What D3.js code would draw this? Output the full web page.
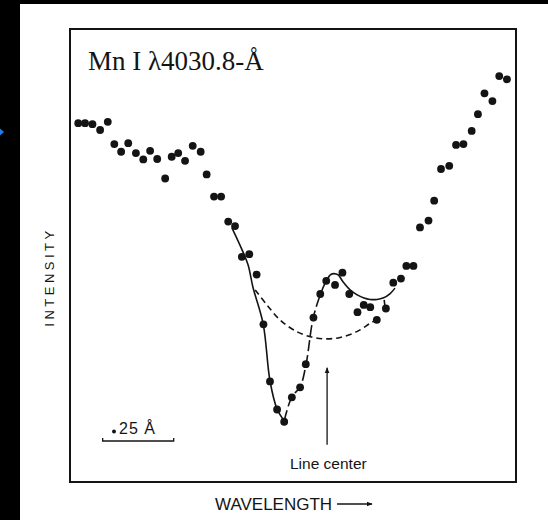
<!DOCTYPE html>
<html>
<head>
<meta charset="utf-8">
<script src="https://cdn.jsdelivr.net/npm/d3@7"></script>
<style>
  html, body { margin: 0; padding: 0; background: #000; }
  svg { display: block; }
</style>
</head>
<body>
<div id="chart"></div>
<script>
// wavelength offset from line center (Å) and intensity (arbitrary units) of the measured points
const wavelength = [
  -0.871, -0.847, -0.821, -0.794, -0.767, -0.744, -0.720, -0.695, -0.668, -0.642,
  -0.618, -0.593, -0.565, -0.542, -0.519, -0.495, -0.468, -0.440, -0.419, -0.393,
  -0.368, -0.343, -0.319, -0.295, -0.269, -0.243, -0.219, -0.196, -0.171, -0.146,
  -0.119, -0.090, -0.070, -0.043, -0.019, 0.002, 0.033, 0.059, 0.083, 0.112,
  0.134, 0.157, 0.180, 0.212, 0.238, 0.265, 0.284, 0.309, 0.332, 0.362,
  0.382, 0.406, 0.435, 0.459, 0.485, 0.514, 0.536, 0.559, 0.587, 0.611, 0.638
];
const intensity = [
  79.2, 79.2, 79.0, 77.7, 79.5, 74.6, 72.9, 74.8, 72.6, 71.2,
  73.1, 71.3, 67.0, 71.8, 72.6, 70.9, 74.2, 72.9, 67.9, 63.0,
  63.0, 57.5, 56.5, 49.7, 50.3, 45.8, 34.8, 22.2, 16.0, 13.3,
  18.7, 20.9, 26.0, 36.3, 41.5, 44.4, 43.5, 46.2, 41.5, 37.5,
  39.1, 38.6, 35.8, 38.3, 44.0, 44.9, 47.7, 47.7, 56.2, 57.7,
  62.1, 69.1, 69.8, 74.4, 74.6, 77.5, 81.2, 85.8, 84.1, 89.6, 88.9
];

// fitted profile: solid blue wing, dashed rise, solid right-hand arc
const fitDownX = [-0.330, -0.294, -0.273, -0.256, -0.220, -0.196, -0.171, -0.146];
const fitDownY = [56.1, 51.2, 47.9, 43.0, 34.9, 22.3, 16.1, 13.5];
const fitUpX = [-0.146, -0.119, -0.090, -0.069, -0.044, -0.018, -0.002, 0.015];
const fitUpY = [13.5, 18.8, 21.0, 26.0, 36.2, 41.5, 43.9, 45.7];
const fitArcX = [0.015, 0.029, 0.044, 0.061, 0.086, 0.111, 0.135, 0.156, 0.181, 0.202, 0.227, 0.244];
const fitArcY = [45.7, 46.0, 45.7, 44.2, 42.4, 41.3, 40.6, 40.3, 40.3, 40.6, 41.6, 42.8];
const stemX = [0.206, 0.209];
const stemY = [40.2, 38.6];

// broad dashed profile under the line
const broadX = [-0.248, -0.207, -0.161, -0.102, -0.043, 0.004, 0.051, 0.110, 0.156, 0.180];
const broadY = [42.4, 39.1, 35.8, 33.2, 31.9, 31.6, 31.9, 33.2, 35.0, 35.9];

// annotations, in data units
const scaleBarX = [-0.785, -0.535];
const scaleBarY = 9.05;
const lineCenterX = 0.005;
const lineCenterY = [8.2, 25.2];

const width = 548;
const height = 520;
const frame = { left: 70, right: 516, top: 29, bottom: 482 };
const ink = '#141414';

const svg = d3
  .select('#chart')
  .append('svg')
  .attr('width', width)
  .attr('height', height);

svg.append('rect').attr('width', width).attr('height', height).attr('fill', '#000');
svg
  .append('rect')
  .attr('x', 20)
  .attr('y', 4)
  .attr('width', width - 20)
  .attr('height', height - 4)
  .attr('fill', '#fff');

// small blue marker at the left edge
svg
  .append('path')
  .attr('d', 'M0,128.5L4,132L0,135.5Z')
  .attr('fill', '#1e7ee8');

const x = d3.scaleLinear().domain([-0.9, 0.67]).range([frame.left, frame.right]);
const y = d3.scaleLinear().domain([0, 100]).range([frame.bottom, frame.top]);

const defs = svg.append('defs');
defs
  .append('marker')
  .attr('id', 'arrow')
  .attr('viewBox', '0 0 10 10')
  .attr('refX', 9)
  .attr('refY', 5)
  .attr('markerWidth', 6)
  .attr('markerHeight', 6)
  .attr('markerUnits', 'userSpaceOnUse')
  .attr('orient', 'auto')
  .append('path')
  .attr('d', 'M0,1L10,5L0,9Z')
  .attr('fill', ink);

svg
  .append('rect')
  .attr('x', frame.left)
  .attr('y', frame.top)
  .attr('width', frame.right - frame.left)
  .attr('height', frame.bottom - frame.top)
  .attr('fill', 'none')
  .attr('stroke', ink)
  .attr('stroke-width', 2);

const zip = (xs, ys) => xs.map((v, i) => [v, ys[i]]);
const line = d3
  .line()
  .x((d) => x(d[0]))
  .y((d) => y(d[1]))
  .curve(d3.curveCatmullRom.alpha(0.5));

const curves = svg.append('g').attr('fill', 'none').attr('stroke', ink).attr('stroke-width', 1.6);

curves.append('path').attr('d', line(zip(broadX, broadY))).attr('stroke-dasharray', '6,4');
curves.append('path').attr('d', line(zip(fitDownX, fitDownY)));
curves.append('path').attr('d', line(zip(fitUpX, fitUpY))).attr('stroke-dasharray', '11,4');
curves.append('path').attr('d', line(zip(fitArcX, fitArcY)));
curves.append('path').attr('d', line(zip(stemX, stemY)));

svg
  .append('g')
  .attr('fill', ink)
  .selectAll('circle')
  .data(zip(wavelength, intensity))
  .join('circle')
  .attr('cx', (d) => x(d[0]))
  .attr('cy', (d) => y(d[1]))
  .attr('r', 3.9);

// title
svg
  .append('text')
  .attr('x', 88)
  .attr('y', 70)
  .attr('font-family', '"Liberation Serif", "Times New Roman", serif')
  .attr('font-size', 27)
  .attr('fill', ink)
  .text('Mn I λ4030.8-Å');

// scale bar
const bar = svg.append('g').attr('stroke', ink).attr('stroke-width', 1.3).attr('fill', 'none');
bar
  .append('path')
  .attr(
    'd',
    `M${x(scaleBarX[0])},${y(scaleBarY) - 3}L${x(scaleBarX[0])},${y(scaleBarY)}` +
      `L${x(scaleBarX[1])},${y(scaleBarY)}L${x(scaleBarX[1])},${y(scaleBarY) - 3}`
  );

const sans = '"Liberation Sans", Arial, sans-serif';
svg
  .append('circle')
  .attr('cx', 114)
  .attr('cy', 431.5)
  .attr('r', 2)
  .attr('fill', ink);
svg
  .append('text')
  .attr('x', 119)
  .attr('y', 434)
  .attr('font-family', sans)
  .attr('font-size', 16)
  .attr('letter-spacing', 1)
  .attr('fill', ink)
  .text('25 Å');

// line center arrow
svg
  .append('line')
  .attr('x1', x(lineCenterX))
  .attr('x2', x(lineCenterX))
  .attr('y1', y(lineCenterY[0]))
  .attr('y2', y(lineCenterY[1]))
  .attr('stroke', ink)
  .attr('stroke-width', 1.3)
  .attr('marker-end', 'url(#arrow)');

svg
  .append('text')
  .attr('x', 290)
  .attr('y', 469)
  .attr('font-family', sans)
  .attr('font-size', 15.5)
  .attr('fill', ink)
  .text('Line center');

// axis titles
svg
  .append('text')
  .attr('x', 215)
  .attr('y', 510)
  .attr('font-family', sans)
  .attr('font-size', 17)
  .attr('fill', ink)
  .text('WAVELENGTH');

svg
  .append('line')
  .attr('x1', 337)
  .attr('x2', 372)
  .attr('y1', 504)
  .attr('y2', 504)
  .attr('stroke', ink)
  .attr('stroke-width', 1.3)
  .attr('marker-end', 'url(#arrow)');

svg
  .append('text')
  .attr('transform', 'translate(54,277) rotate(-90)')
  .attr('text-anchor', 'middle')
  .attr('font-family', sans)
  .attr('font-size', 13)
  .attr('letter-spacing', 3.5)
  .attr('fill', ink)
  .text('INTENSITY');
</script>
</body>
</html>
